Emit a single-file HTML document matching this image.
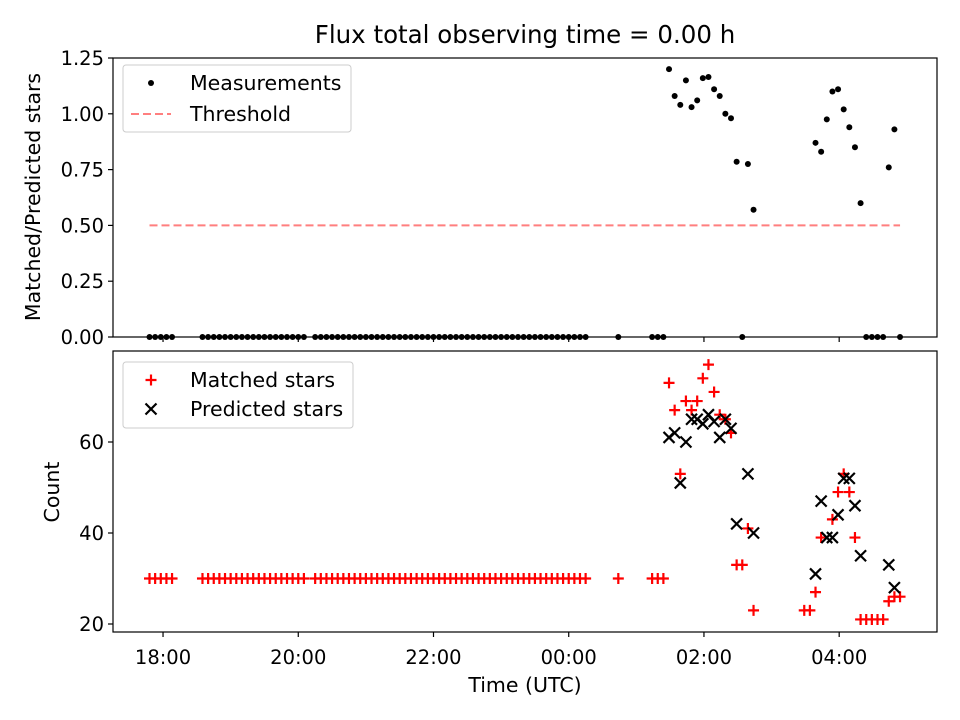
<!DOCTYPE html>
<html><head><meta charset="utf-8"><style>
body{margin:0;background:#fff;}
svg{display:block;font-family:"DejaVu Sans","Liberation Sans",sans-serif;}
</style></head><body>
<svg id="chart" width="960" height="720" viewBox="0 0 960 720">
<rect width="960" height="720" fill="#fff"/>
<text x="525" y="43" font-size="24.5" text-anchor="middle">Flux total observing time = 0.00 h</text>
<g id="topg"></g><g id="botg"></g>
</svg>
<script>
// minutes since 18:00 UTC
const zeroTimes = [-12,-7,-2,3,8,35,40,45,50,55,60,65,70,75,80,85,90,95,100,105,110,115,120,125,135,140,145,150,155,160,165,170,175,180,185,190,195,200,205,210,215,220,225,230,235,240,245,250,255,260,265,270,275,280,285,290,295,300,305,310,315,320,325,330,335,340,345,350,355,360,365,370,375,404,434,439,444];
const ratioTimes = [449,454,459,464,469,474,479,484,489,494,499,504,509,514,519,524,579,584,589,594,599,604,609,614,619,624,629,634,639,644,649,654];
const ratioVals = [1.20,1.08,1.04,1.15,1.03,1.06,1.16,1.165,1.11,1.08,1.0,0.98,0.785,0,0.775,0.57,0.87,0.83,0.975,1.10,1.11,1.02,0.94,0.85,0.60,0,0,0,0,0.76,0.93,0];
const threshold = 0.5;
const matchedTimes = [449,454,459,464,469,474,479,484,489,494,499,504,509,514,519,524,569,574,579,584,594,599,604,609,614,619,624,629,634,639,644,649,654];
const matchedVals = [73,67,53,69,67,69,74,77,71,66,65,62,33,33,41,23,23,23,27,39,43,49,53,49,39,21,21,21,21,21,25,26,26];
const predTimes = [449,454,459,464,469,474,479,484,489,494,499,504,509,519,524,579,584,589,594,599,604,609,614,619,644,649];
const predVals = [61,62,51,60,65,65,64,66,64.5,61,65,63,42,53,40,31,47,39,39,44,52,52,46,35,33,28];
const xTickVals = [0,120,240,360,480,600];
const xTickLabels = ["18:00","20:00","22:00","00:00","02:00","04:00"];
const topTicks = [0,0.25,0.5,0.75,1.0,1.25];
const topTickLabels = ["0.00","0.25","0.50","0.75","1.00","1.25"];
const botTicks = [20,40,60];

const NS="http://www.w3.org/2000/svg";
const X0=113,X1=937;
const xs = m => X0 + (m+44.4)/(686.8+44.4)*(X1-X0);
const T0=58,T1=337; const ys1 = v => T1 - v/1.25*(T1-T0);
const B0=351,B1=632; const ys2 = v => 624 - (v-20)*4.55;
function el(tag,attrs,parent,text){const e=document.createElementNS(NS,tag);for(const k in attrs)e.setAttribute(k,attrs[k]);if(text!==undefined)e.textContent=text;parent.appendChild(e);return e;}
const gTop=document.getElementById('topg'), gBot=document.getElementById('botg');

function axes(g,y0,y1,name){
  const r=el('rect',{x:X0,y:y0,width:X1-X0,height:y1-y0,fill:'none',stroke:'#000','stroke-width':1.2},g);
  
  
  xTickVals.forEach((v,i)=>{
    const t=el('line',{x1:xs(v),x2:xs(v),y1:y1,y2:y1+5,stroke:'#000','stroke-width':1.2},g);
    
    
  });
}
axes(gTop,T0,T1,'top-axes');
axes(gBot,B0,B1,'bottom-axes');
xTickVals.forEach((v,i)=>{
  const t=el('text',{x:xs(v),y:664,'font-size':19.5,'text-anchor':'middle'},gBot,xTickLabels[i]);
  
  
});
topTicks.forEach((v,i)=>{
  el('line',{x1:X0-5,x2:X0,y1:ys1(v),y2:ys1(v),stroke:'#000','stroke-width':1.2},gTop);
  const t=el('text',{x:X0-9,y:ys1(v)+7,'font-size':19.5,'text-anchor':'end'},gTop,topTickLabels[i]);
  
  
});
botTicks.forEach(v=>{
  el('line',{x1:X0-5,x2:X0,y1:ys2(v),y2:ys2(v),stroke:'#000','stroke-width':1.2},gBot);
  const t=el('text',{x:X0-9,y:ys2(v)+7,'font-size':19.5,'text-anchor':'end'},gBot,String(v));
  
  
});
let t;
t=el('text',{x:40,y:197,'font-size':20.5,'text-anchor':'middle',transform:'rotate(-90 40 197)'},gTop,'Matched/Predicted stars');


t=el('text',{x:59,y:492,'font-size':20.5,'text-anchor':'middle',transform:'rotate(-90 59 492)'},gBot,'Count');


t=el('text',{x:525,y:692,'font-size':20.5,'text-anchor':'middle'},gBot,'Time (UTC)');



t=el('line',{x1:xs(-12),x2:xs(654),y1:ys1(threshold),y2:ys1(threshold),stroke:'#ff7f7f','stroke-width':2,'stroke-dasharray':'8,4'},gTop);


zeroTimes.forEach(m=>{
  const c=el('circle',{cx:xs(m),cy:ys1(0),r:3,fill:'#000'},gTop);
  
  
});
ratioTimes.forEach((m,i)=>{
  const c=el('circle',{cx:xs(m),cy:ys1(ratioVals[i]),r:3,fill:'#000'},gTop);
  
  
});
function plus(x,y,g){return el('path',{d:`M${x-5.5},${y}h11M${x},${y-5.5}v11`,stroke:'#f00','stroke-width':2.2},g);}
function cross(x,y,g){return el('path',{d:`M${x-5.5},${y-5.5}l11,11M${x-5.5},${y+5.5}l11,-11`,stroke:'#000','stroke-width':2.2},g);}
zeroTimes.forEach(m=>{
  const p=plus(xs(m),ys2(30),gBot);
  
  
});
matchedTimes.forEach((m,i)=>{
  const p=plus(xs(m),ys2(matchedVals[i]),gBot);
  
  
});
predTimes.forEach((m,i)=>{
  const p=cross(xs(m),ys2(predVals[i]),gBot);
  
  
});
let lg=el('g',{},gTop);


el('rect',{x:123,y:65,width:228,height:67,rx:3,fill:'#fff',stroke:'#ccc'},lg);
el('circle',{cx:151,cy:83,r:3,fill:'#000'},lg);
el('text',{x:190,y:90,'font-size':20.5},lg,'Measurements');
el('line',{x1:131,x2:171,y1:114,y2:114,stroke:'#ff7f7f','stroke-width':2,'stroke-dasharray':'8,4'},lg);
el('text',{x:190,y:121,'font-size':20.5},lg,'Threshold');
lg=el('g',{},gBot);


el('rect',{x:123,y:362,width:230,height:66,rx:3,fill:'#fff',stroke:'#ccc'},lg);
plus(151,380,lg);
el('text',{x:190,y:387,'font-size':20.5},lg,'Matched stars');
cross(151,409,lg);
el('text',{x:190,y:416,'font-size':20.5},lg,'Predicted stars');
</script>
</body></html>
